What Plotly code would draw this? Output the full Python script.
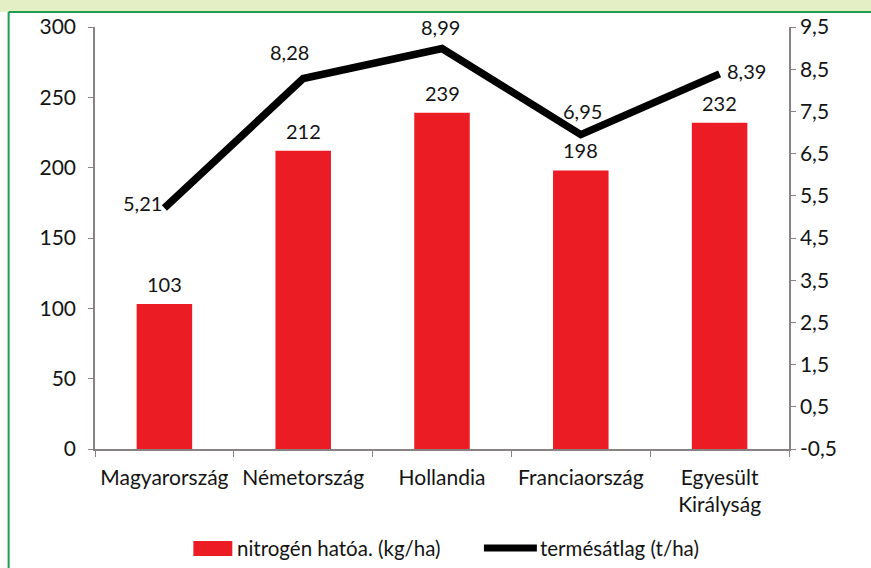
import plotly.graph_objects as go

countries = ['Magyarország', 'Németország', 'Hollandia', 'Franciaország', 'Egyesült<br>Királyság']
nitrogen = [103, 212, 239, 198, 232]
yield_avg = [5.21, 8.28, 8.99, 6.95, 8.39]

left_ticks = [0, 50, 100, 150, 200, 250, 300]
right_ticks = [-0.5, 0.5, 1.5, 2.5, 3.5, 4.5, 5.5, 6.5, 7.5, 8.5, 9.5]

font_family = "Lato, Open Sans, sans-serif"
axis_col = '#8a8282'
txt_col = '#141414'
red = '#ec1c24'
green = '#1e9e4e'

# plot area in pixels: x 94.5..789.5, y 27..449
W, H = 695, 422


def px(x):
    return (x - 94.5) / W


def py(y):
    return (449 - y) / H


fig = go.Figure()
fig.add_trace(go.Bar(
    x=countries,
    y=nitrogen,
    name='nitrogén hatóa. (kg/ha)',
    marker=dict(color=red, line=dict(width=0)),
    width=0.4,
    showlegend=False,
))
fig.add_trace(go.Scatter(
    x=countries,
    y=yield_avg,
    yaxis='y2',
    name='termésátlag (t/ha)',
    mode='lines',
    line=dict(color='black', width=7.5),
    cliponaxis=False,
    showlegend=False,
))

annotations = []
# bar value labels
for c, v in zip(countries, nitrogen):
    annotations.append(dict(
        x=c, y=v, xref='x', yref='y', text=str(v),
        showarrow=False, yshift=20, yanchor='middle',
        font=dict(size=20, color=txt_col),
    ))
# line value labels (Excel style placement)
shifts = [(-22, 5), (-14, 26), (-2, 22), (2, 24), (27, 3)]
for c, v, (dx, dy) in zip(countries, yield_avg, shifts):
    annotations.append(dict(
        x=c, y=v, xref='x', yref='y2', text=f"{v:.2f}".replace('.', ','),
        showarrow=False, xshift=dx, yshift=dy, yanchor='middle',
        font=dict(size=20, color=txt_col),
    ))

# legend drawn by hand to get the wide Excel keys
annotations += [
    dict(x=px(235), y=py(548), xref='paper', yref='paper', xanchor='left', yanchor='middle',
         text='nitrogén hatóa. (kg/ha)', showarrow=False, font=dict(size=20.5, color=txt_col)),
    dict(x=px(538), y=py(548), xref='paper', yref='paper', xanchor='left', yanchor='middle',
         text='termésátlag (t/ha)', showarrow=False, font=dict(size=20.5, color=txt_col)),
]

shapes = [
    dict(type='rect', xref='paper', yref='paper', x0=px(-10), x1=px(880),
         y0=py(12), y1=py(-5), fillcolor='#e5efc6', line=dict(width=0)),
    dict(type='line', xref='paper', yref='paper', x0=px(8), x1=px(880),
         y0=py(12), y1=py(12), line=dict(color=green, width=2)),
    dict(type='line', xref='paper', yref='paper', x0=px(8), x1=px(8),
         y0=py(12), y1=py(580), line=dict(color=green, width=2)),
    dict(type='rect', xref='paper', yref='paper', x0=px(193), x1=px(232),
         y0=py(556), y1=py(541), fillcolor=red, line=dict(width=0)),
    dict(type='line', xref='paper', yref='paper', x0=px(484), x1=px(537),
         y0=py(548), y1=py(548), line=dict(color='black', width=7)),
]

fig.update_layout(
    width=871, height=568,
    margin=dict(l=94.5, r=81.5, t=27, b=119),
    paper_bgcolor='white',
    plot_bgcolor='white',
    font=dict(family=font_family, size=21, color=txt_col),
    showlegend=False,
    xaxis=dict(
        showline=True, linecolor=axis_col, linewidth=1.5,
        ticks='outside', tickcolor=axis_col, ticklen=6,
        tickson='boundaries', ticklabelstandoff=9,
        tickfont=dict(size=21),
    ),
    yaxis=dict(
        range=[0, 300], tickvals=left_ticks,
        showline=True, linecolor=axis_col, linewidth=1.5,
        ticks='outside', tickcolor=axis_col, ticklen=5,
        ticklabelstandoff=8,
        showgrid=False, zeroline=False,
        tickfont=dict(size=21),
    ),
    yaxis2=dict(
        range=[-0.5, 9.5], overlaying='y', side='right',
        tickvals=right_ticks,
        ticktext=[f"{v:.1f}".replace('.', ',') for v in right_ticks],
        showline=True, linecolor=axis_col, linewidth=1.5,
        ticks='outside', tickcolor=axis_col, ticklen=5,
        showgrid=False, zeroline=False,
        tickfont=dict(size=21),
    ),
    annotations=annotations,
    shapes=shapes,
)

fig.write_html("out.html", config={'displayModeBar': False},
               post_script="document.body.style.margin='0';")
